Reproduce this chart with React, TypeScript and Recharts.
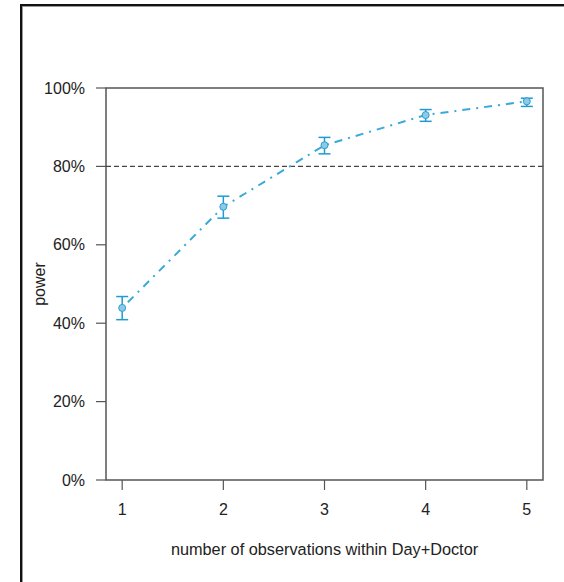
import { LineChart, Line, XAxis, YAxis, ErrorBar, ReferenceLine, ReferenceArea } from "recharts";

// observations within Day+Doctor vs estimated power (with CI)
const obsCounts = [1, 2, 3, 4, 5];
const powerValues = [0.439, 0.697, 0.854, 0.931, 0.966];
const lowerCI = [0.409, 0.668, 0.832, 0.915, 0.953];
const upperCI = [0.468, 0.724, 0.874, 0.945, 0.974];
const xTicks = [1, 2, 3, 4, 5];
const yTicks = [0, 0.2, 0.4, 0.6, 0.8, 1];
const targetPower = 0.8;

const data = obsCounts.map((n, i) => ({
  n,
  power: powerValues[i],
  err: [powerValues[i] - lowerCI[i], upperCI[i] - powerValues[i]],
}));

const FONT = "'Liberation Sans', Arial, sans-serif";
const AXIS = "#555";
const TEXT = "#222";

export default function App() {
  return (
    <div style={{ position: "absolute", left: 0, top: 0, width: 564, height: 582, overflow: "hidden", background: "#fff" }}>
      <div
        style={{
          position: "absolute",
          left: 20,
          top: 4,
          width: 620,
          height: 640,
          border: "2px solid #111",
          boxShadow: "inset 1px 1px 0 #999",
        }}
      />
      <div style={{ position: "absolute", left: 0, top: 0 }}>
        <LineChart width={564} height={582} data={data} margin={{ top: 88, right: 21, bottom: 0, left: 0 }} style={{ fontFamily: FONT }}>
          <XAxis
            dataKey="n"
            type="number"
            domain={[0.84, 5.16]}
            ticks={xTicks}
            height={102}
            axisLine={false}
            tickSize={10}
            tickMargin={14}
            tickLine={{ stroke: AXIS, strokeWidth: 1.2 }}
            tick={{ fill: TEXT, fontSize: 16, fontFamily: FONT }}
            label={{ value: "number of observations within Day+Doctor", position: "insideBottom", offset: 27, fill: TEXT, fontSize: 16.3, fontFamily: FONT }}
          />
          <YAxis
            type="number"
            domain={[0, 1]}
            ticks={yTicks}
            width={106}
            axisLine={false}
            tickSize={10}
            tickMargin={11}
            tickLine={{ stroke: AXIS, strokeWidth: 1.2 }}
            tickFormatter={(v: number) => `${Math.round(v * 100)}%`}
            tick={{ fill: TEXT, fontSize: 16, fontFamily: FONT }}
            label={{ value: "power", angle: -90, position: "insideLeft", offset: 39, fill: TEXT, fontSize: 16, fontFamily: FONT, style: { textAnchor: "middle" } }}
          />
          <ReferenceArea x1={0.84} x2={5.16} y1={0} y2={1} fill="none" stroke={AXIS} strokeWidth={1.5} fillOpacity={0} />
          <ReferenceLine y={targetPower} stroke="#444" strokeWidth={1.2} strokeDasharray="5 3" />
          <Line
            type="linear"
            dataKey="power"
            stroke="#3AA8D8"
            strokeWidth={2}
            strokeDasharray="2 6 8 6"
            isAnimationActive={false}
            dot={{ r: 3.5, fill: "#8ECAE6", stroke: "#2A9FD4", strokeWidth: 1, strokeDasharray: "" }}
          >
            <ErrorBar dataKey="err" direction="y" width={6} stroke="#1E9BD5" strokeWidth={1.5} />
          </Line>
        </LineChart>
      </div>
    </div>
  );
}
